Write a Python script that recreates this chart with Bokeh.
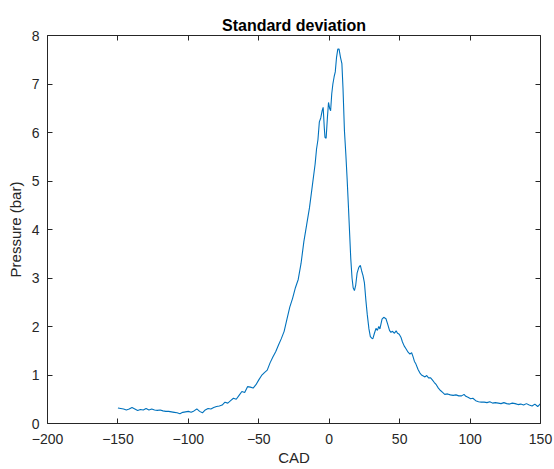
from bokeh.plotting import figure
from bokeh.models import LinearAxis, FixedTicker, Range1d, Title
from bokeh.embed import file_html
from bokeh.resources import INLINE

# Crank angle (CAD) and standard deviation of pressure (bar)
cad = [-150, -148, -146, -144, -142, -140, -138, -136, -134, -132, -130, -128, -126, -124,
       -122, -120, -118, -116, -114, -112, -110, -108, -106, -104, -102, -100, -98, -96,
       -94, -92, -90, -88, -86, -84, -82, -80, -78, -76, -74, -72, -70, -68, -66, -64,
       -62, -60, -58, -56, -54, -52, -50, -48, -46, -44, -42, -40, -38, -36, -34, -32,
       -30, -28, -26, -24, -22, -20, -18, -16, -14, -12, -10, -9, -8, -7, -6, -5, -4.3,
       -3.5, -3, -2.2, -1.3, -0.5, 0.3, 1.0, 1.8, 2.6, 3.5, 4.3, 5.2, 6.1, 7.0, 8.0, 9.0,
       9.8, 10.8, 11.8, 12.7, 13.6, 14.4, 15.3, 16.2, 17.0, 17.9, 18.8, 19.8, 21.0, 22.1,
       23.0, 24.0, 25.0, 26.0, 27.0, 28.2, 29.2, 30.2, 31.0, 32.0, 33.2, 34.2, 35.2, 36.0,
       37.5, 38.7, 40.3, 41.5, 42.8, 43.8, 45.0, 46.3, 47.5, 48.5, 49.7, 50.9, 52.0, 53.2,
       54.5, 56.0, 57.3, 58.5, 59.5, 60.5, 61.5, 63.0, 64.2, 65.5, 66.8, 68.0, 69.2, 70.5,
       72.0, 73.2, 74.5, 76.0, 77.5, 79.0, 80.5, 82.0, 84.0, 86.0, 88.0, 90.0, 92.0, 94.0,
       95.7, 97.0, 98.5, 100.4, 102.0, 104.0, 106.0, 108.0, 110.0, 112.0, 114.0, 116.0,
       118.0, 120.0, 122.0, 124.0, 126.0, 128.0, 130.0, 132.0, 134.0, 136.0, 138.0, 140.0,
       142.0, 144.0, 146.0, 148.0, 150.0]
std = [0.32, 0.31, 0.30, 0.28, 0.30, 0.33, 0.30, 0.27, 0.29, 0.28, 0.31, 0.28, 0.30, 0.28,
       0.27, 0.28, 0.26, 0.25, 0.25, 0.24, 0.23, 0.22, 0.20, 0.23, 0.24, 0.25, 0.23, 0.26,
       0.30, 0.25, 0.22, 0.28, 0.31, 0.30, 0.33, 0.35, 0.36, 0.38, 0.44, 0.42, 0.47, 0.52,
       0.50, 0.58, 0.66, 0.64, 0.76, 0.75, 0.73, 0.80, 0.90, 0.99, 1.05, 1.10, 1.25, 1.37,
       1.48, 1.62, 1.75, 1.90, 2.15, 2.40, 2.58, 2.80, 2.97, 3.30, 3.75, 4.10, 4.45, 4.90,
       5.35, 5.66, 5.85, 6.22, 6.30, 6.45, 6.52, 6.10, 5.90, 5.88, 6.30, 6.62, 6.50, 6.45,
       6.80, 7.00, 7.15, 7.25, 7.55, 7.72, 7.72, 7.55, 7.42, 6.90, 6.04, 5.55, 5.05, 4.50,
       3.98, 3.40, 3.00, 2.80, 2.74, 2.85, 3.10, 3.22, 3.26, 3.15, 3.05, 2.90, 2.55, 2.25,
       1.95, 1.79, 1.76, 1.75, 1.85, 1.96, 1.92, 2.00, 1.95, 2.15, 2.19, 2.16, 2.05, 1.92,
       1.88, 1.90, 1.86, 1.91, 1.86, 1.84, 1.78, 1.68, 1.60, 1.54, 1.47, 1.43, 1.46, 1.38,
       1.28, 1.23, 1.12, 1.05, 1.00, 0.98, 0.96, 0.99, 0.94, 0.94, 0.90, 0.85, 0.80, 0.73,
       0.68, 0.64, 0.60, 0.61, 0.59, 0.58, 0.59, 0.57, 0.57, 0.60, 0.56, 0.54, 0.51, 0.52,
       0.47, 0.45, 0.44, 0.44, 0.43, 0.45, 0.42, 0.43, 0.42, 0.41, 0.43, 0.41, 0.40, 0.42,
       0.41, 0.39, 0.40, 0.38, 0.41, 0.38, 0.36, 0.40, 0.35, 0.41]

x_ticks = [-200, -150, -100, -50, 0, 50, 100, 150]
y_ticks = [0, 1, 2, 3, 4, 5, 6, 7, 8]

FONT = "Liberation Sans"
AX = "#262626"

p = figure(width=554, height=469, output_backend="svg", toolbar_location=None,
           x_range=Range1d(-200, 150), y_range=Range1d(0, 8),
           x_axis_label="CAD", y_axis_label="Pressure (bar)",
           min_border_left=47, min_border_right=14, min_border_top=35, min_border_bottom=46)
p.title = Title(text="Standard deviation", align="center", text_font=FONT,
                text_font_size="16px", text_font_style="bold", text_color="#000000",
                standoff=3)
p.outline_line_color = None
p.grid.visible = False
p.background_fill_color = "white"
p.border_fill_color = "white"

p.line(cad, std, line_color="#0072BD", line_width=1.1)

for ax in (p.xaxis[0], p.yaxis[0]):
    ax.major_tick_in = 5
    ax.major_tick_out = 0
    ax.minor_tick_line_color = None
    ax.axis_line_color = AX
    ax.major_tick_line_color = AX
    ax.major_label_text_font = FONT
    ax.major_label_text_font_size = "14px"
    ax.major_label_text_color = AX
    ax.axis_label_text_font = FONT
    ax.axis_label_text_font_size = "15px"
    ax.axis_label_text_font_style = "normal"
    ax.axis_label_text_color = AX

p.xaxis[0].ticker = FixedTicker(ticks=x_ticks)
p.yaxis[0].ticker = FixedTicker(ticks=y_ticks)
p.xaxis[0].major_label_standoff = 10
p.xaxis[0].axis_label_standoff = 2
p.yaxis[0].major_label_standoff = 8
p.yaxis[0].axis_label_standoff = 5

top = LinearAxis(ticker=FixedTicker(ticks=x_ticks))
right = LinearAxis(ticker=FixedTicker(ticks=y_ticks))
for ax in (top, right):
    ax.major_tick_in = 5
    ax.major_tick_out = 0
    ax.minor_tick_line_color = None
    ax.axis_line_color = AX
    ax.major_tick_line_color = AX
    ax.major_label_text_font_size = "0px"
    ax.major_label_standoff = 0
    ax.major_label_text_alpha = 0
p.add_layout(top, "above")
p.add_layout(right, "right")

open("out.html", "w").write(file_html(p, INLINE))
